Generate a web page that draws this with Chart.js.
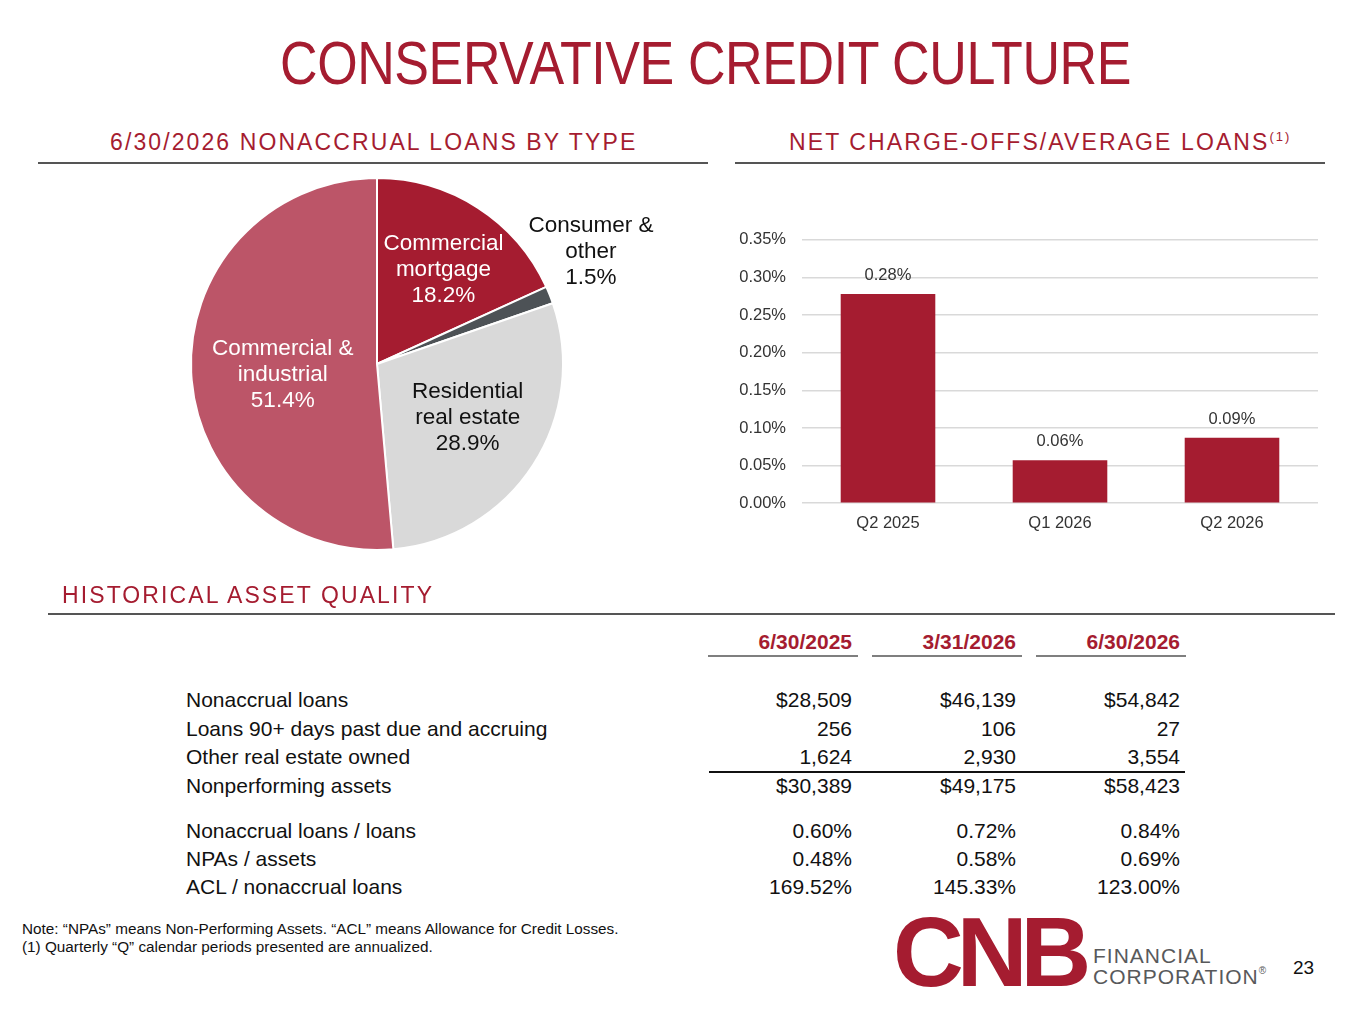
<!DOCTYPE html>
<html>
<head>
<meta charset="utf-8">
<script src="https://cdn.jsdelivr.net/npm/chart.js@4"></script>
<style>
  body { margin: 0; width: 1365px; height: 1024px; background: #fff; font-family: Arial, "Liberation Sans", sans-serif; position: relative; overflow: hidden; }
  .abs { position: absolute; }
  #title { left: 23px; width: 1365px; top: 28px; text-align: center; color: #A51C30; font-size: 61px; letter-spacing: -0.5px; transform: scaleX(0.853); transform-origin: 50% 0; white-space: nowrap; }
  .head { color: #A51C30; font-size: 23px; letter-spacing: 2.1px; white-space: nowrap; }
  .rule { height: 2px; background: #555; }
  .cell { font-size: 21px; color: #111; white-space: nowrap; }
  .num { text-align: right; width: 160px; }
  .colhead { font-weight: bold; color: #A51C30; }
  .note { font-size: 15.3px; color: #111; left: 22px; }
</style>
</head>
<body>
<div id="title" class="abs">CONSERVATIVE CREDIT CULTURE</div>

<div class="abs head" style="left:110px; top:129px;">6/30/2026 NONACCRUAL LOANS BY TYPE</div>
<div class="abs rule" style="left:38px; top:162px; width:670px;"></div>
<div class="abs head" style="left:789px; top:129px;">NET CHARGE-OFFS/AVERAGE LOANS<sup style="font-size:13px;letter-spacing:2px;">(1)</sup></div>
<div class="abs rule" style="left:735px; top:162px; width:590px;"></div>

<div class="abs" style="left:137px; top:124px; width:560px; height:480px;"><canvas id="pie"></canvas></div>
<div class="abs" style="left:720px; top:214px; width:603px; height:321px;"><canvas id="bar"></canvas></div>

<div class="abs head" style="left:62px; top:582px;">HISTORICAL ASSET QUALITY</div>
<div class="abs rule" style="left:48px; top:613px; width:1287px;"></div>

<div id="table"></div>

<div class="abs note" style="top:920px;">Note: “NPAs” means Non-Performing Assets. “ACL” means Allowance for Credit Losses.</div>
<div class="abs note" style="top:938px;">(1) Quarterly “Q” calendar periods presented are annualized.</div>

<div class="abs" style="left:893px; top:903px; font-size:98px; font-weight:bold; color:#A51C30; letter-spacing:-7px; line-height:1;">CNB</div>
<div class="abs" style="left:1093px; top:945px; font-size:21px; color:#58595B; line-height:1; letter-spacing:1px;">FINANCIAL</div>
<div class="abs" style="left:1093px; top:966px; font-size:21px; color:#58595B; line-height:1; letter-spacing:1px;">CORPORATION<span style="font-size:10px; vertical-align:top; letter-spacing:0;">®</span></div>
<div class="abs" style="left:1293px; top:957px; font-size:19px; color:#111;">23</div>

<script>
// nonaccrual loans by type, 6/30/2026
const pieLabels = [['Commercial', 'mortgage'], ['Consumer &', 'other'], ['Residential', 'real estate'], ['Commercial &', 'industrial']];
const pieValues = [18.2, 1.5, 28.9, 51.4];
const pieColors = ['#A51C30', '#4D5256', '#D9D9D9', '#BC5568'];
const pieTextColors = ['#fff', '#111', '#111', '#fff'];

// net charge-offs / average loans
const quarters = ['Q2 2025', 'Q1 2026', 'Q2 2026'];
const chargeOffs = [0.278, 0.057, 0.087];
const yTicks = [0, 0.05, 0.10, 0.15, 0.20, 0.25, 0.30, 0.35];

// historical asset quality table
const tableDates = ['6/30/2025', '3/31/2026', '6/30/2026'];
const tableRows = ['Nonaccrual loans', 'Loans 90+ days past due and accruing', 'Other real estate owned', 'Nonperforming assets',
                   'Nonaccrual loans / loans', 'NPAs / assets', 'ACL / nonaccrual loans'];
const col2025 = ['$28,509', '256', '1,624', '$30,389', '0.60%', '0.48%', '169.52%'];
const col2026q1 = ['$46,139', '106', '2,930', '$49,175', '0.72%', '0.58%', '145.33%'];
const col2026q2 = ['$54,842', '27', '3,554', '$58,423', '0.84%', '0.69%', '123.00%'];

// pie labels: radius factor and angle shift (degrees) per slice
const labelRadius = [0.62, 1.3, 0.566, 0.51];
const labelShift = [2.4, -6, -2.4, -4];
const pieLabelPlugin = {
    id: 'pieLabels',
    afterDatasetsDraw(chart) {
        const ctx = chart.ctx;
        const meta = chart.getDatasetMeta(0);
        meta.data.forEach((arc, i) => {
            const mid = (arc.startAngle + arc.endAngle) / 2 + labelShift[i] * Math.PI / 180;
            const r = arc.outerRadius * labelRadius[i];
            const x = arc.x + Math.cos(mid) * r;
            const y = arc.y + Math.sin(mid) * r;
            const lines = pieLabels[i].concat([pieValues[i].toFixed(1) + '%']);
            ctx.save();
            ctx.fillStyle = pieTextColors[i];
            ctx.font = '22.5px Arial, "Liberation Sans"';
            ctx.textAlign = 'center';
            ctx.textBaseline = 'middle';
            lines.forEach((t, j) => ctx.fillText(t, x, y + (j - 1) * 26));
            ctx.restore();
        });
    }
};

new Chart(document.getElementById('pie'), {
    type: 'pie',
    data: {
        labels: pieLabels.map(l => l.join(' ')),
        datasets: [{ data: pieValues, backgroundColor: pieColors, borderColor: '#fff', borderWidth: 2 }]
    },
    options: {
        responsive: true,
        maintainAspectRatio: false,
        animation: false,
        layout: { padding: { left: 53, right: 133, top: 53, bottom: 53 } },
        plugins: { legend: { display: false }, tooltip: { enabled: false } }
    },
    plugins: [pieLabelPlugin]
});

const barLabelPlugin = {
    id: 'barLabels',
    afterDatasetsDraw(chart) {
        const ctx = chart.ctx;
        chart.getDatasetMeta(0).data.forEach((bar, i) => {
            ctx.save();
            ctx.fillStyle = '#333';
            ctx.font = '16.5px Arial, "Liberation Sans"';
            ctx.textAlign = 'center';
            ctx.textBaseline = 'alphabetic';
            ctx.fillText(chargeOffs[i].toFixed(2) + '%', bar.x, bar.y - 14);
            ctx.restore();
        });
    }
};

new Chart(document.getElementById('bar'), {
    type: 'bar',
    data: {
        labels: quarters,
        datasets: [{ data: chargeOffs, backgroundColor: '#A51C30', categoryPercentage: 1, barPercentage: 0.55 }]
    },
    options: {
        responsive: true,
        maintainAspectRatio: false,
        animation: false,
        layout: { padding: { top: 0, right: 5 } },
        plugins: { legend: { display: false }, tooltip: { enabled: false } },
        scales: {
            x: {
                grid: { display: false },
                border: { display: false },
                ticks: { color: '#333', font: { size: 16.5, family: 'Arial, "Liberation Sans"' }, padding: 2 }
            },
            y: {
                min: 0, max: 0.35,
                afterBuildTicks(scale) { scale.ticks = yTicks.map(v => ({ value: v })); },
                afterFit(scale) { scale.width = 82; },
                grid: { color: '#D9D9D9', lineWidth: 1.5, drawTicks: false },
                border: { display: false },
                ticks: { color: '#333', font: { size: 16.5, family: 'Arial, "Liberation Sans"' }, padding: 16, callback: v => v.toFixed(2) + '%' }
            }
        }
    },
    plugins: [barLabelPlugin]
});

// table built from the arrays
const table = document.getElementById('table');
const colRight = [852, 1016, 1180];
const rowTops = [688, 717, 745, 774, 819, 847, 875];
function addDiv(cls, style, text) {
    const d = document.createElement('div');
    d.className = 'abs ' + cls;
    d.setAttribute('style', style);
    d.textContent = text;
    table.appendChild(d);
}
tableDates.forEach((d, c) => {
    addDiv('cell num colhead', 'left:' + (colRight[c] - 160) + 'px; top:630px;', d);
    addDiv('rule', 'left:' + (colRight[c] - 144) + 'px; top:655px; width:150px; background:#7F7F7F;', '');
});
[col2025, col2026q1, col2026q2].forEach((col, c) => {
    col.forEach((v, r) => addDiv('cell num', 'left:' + (colRight[c] - 160) + 'px; top:' + rowTops[r] + 'px;', v));
});
tableRows.forEach((t, r) => addDiv('cell', 'left:186px; top:' + rowTops[r] + 'px;', t));
addDiv('', 'left:709px; top:771px; width:476px; height:1.5px; background:#111;', '');
</script>
</body>
</html>
